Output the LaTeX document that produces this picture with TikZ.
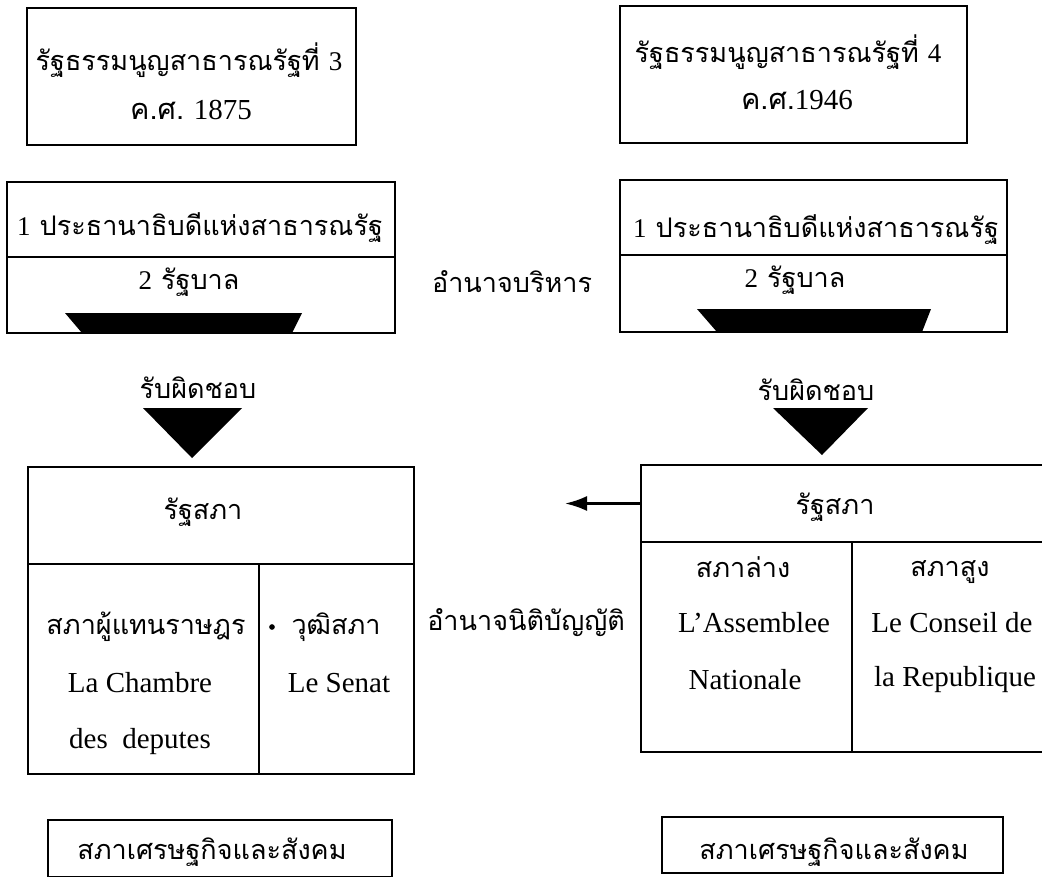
\documentclass[tikz,border=0pt]{standalone}
\usepackage{fontspec}
\setmainfont{Liberation Serif}
\newfontfamily\thaifont[Script=Thai]{Loma}
\usetikzlibrary{arrows.meta}
\tikzstyle{cellbox} = [draw=black, line width=2.8pt, rectangle, inner sep=0pt]
\tikzstyle{thaitext} = [font=\thaifont\fontsize{27}{32}\selectfont, inner sep=0pt]
\tikzstyle{romantext} = [font=\fontsize{29}{34}\selectfont, inner sep=0pt]
\tikzstyle{bigarrow} = [fill=black]

\begin{document}
\begin{tikzpicture}[x=1pt, y=-1pt]
    \useasboundingbox (0,0) rectangle (1042,876);
    % constitution boxes
    \node[cellbox, minimum width=329pt, minimum height=137pt] (ruleA) at (191.5,76.5) {};
    \node[cellbox, minimum width=347pt, minimum height=137pt] (ruleB) at (793.5,74.5) {};
    \node[thaitext] (ruleAt) at (189,60) {รัฐธรรมนูญสาธารณรัฐที่ {\rmfamily 3}};
    \node[romantext] (ruleAy) at (191,110) {{\thaifont ค.ศ.} 1875};
    \node[thaitext] (ruleBt) at (788,52) {รัฐธรรมนูญสาธารณรัฐที่ {\rmfamily 4}};
    \node[romantext] (ruleBy) at (797,100) {{\thaifont ค.ศ.}1946};
    % executive
    \node[cellbox, minimum width=388pt, minimum height=75pt] (headA) at (201,219.5) {};
    \node[cellbox, minimum width=388pt, minimum height=76pt] (govA) at (201,295) {};
    \node[cellbox, minimum width=387pt, minimum height=75pt] (headB) at (813.5,217.5) {};
    \node[cellbox, minimum width=387pt, minimum height=77pt] (govB) at (813.5,293.5) {};
    \node[thaitext] (headAt) at (200,228) {{\rmfamily 1} ประธานาธิบดีแห่งสาธารณรัฐ};
    \node[thaitext] (govAt) at (189,282) {{\rmfamily 2} รัฐบาล};
    \node[thaitext] (headBt) at (816,230) {{\rmfamily 1} ประธานาธิบดีแห่งสาธารณรัฐ};
    \node[thaitext] (govBt) at (795,280) {{\rmfamily 2} รัฐบาล};
    \fill[bigarrow] (65,313) -- (302,313) -- (292,333) -- (82,333) -- cycle;
    \fill[bigarrow] (697,309) -- (931,309) -- (922,332) -- (717,332) -- cycle;
    \node[thaitext] (execlabel) at (512,282) {อำนาจบริหาร};
    % responsibility
    \node[thaitext] (respA) at (198,388) {รับผิดชอบ};
    \node[thaitext] (respB) at (816,390) {รับผิดชอบ};
    \fill[bigarrow] (143,408) -- (242,408) -- (192,458) -- cycle;
    \fill[bigarrow] (773,408) -- (868,408) -- (822,455) -- cycle;
    % parliament 1875
    \node[cellbox, minimum width=386pt, minimum height=97pt] (parlA) at (221,515.5) {};
    \node[cellbox, minimum width=231pt, minimum height=210pt] (lowerA) at (143.5,669) {};
    \node[cellbox, minimum width=155pt, minimum height=210pt] (upperA) at (336.5,669) {};
    \node[thaitext] (parlAt) at (203,512) {รัฐสภา};
    \node[thaitext] (lowerAt) at (146,627) {สภาผู้แทนราษฎร};
    \node[romantext] (lowerAa) at (140,683) {La Chambre};
    \node[romantext] (lowerAb) at (140,742) {des\enspace deputes};
    \node[circle, fill=black, inner sep=2pt] (dotA) at (272,627) {};
    \node[thaitext] (upperAt) at (336,627) {วุฒิสภา};
    \node[romantext] (upperAa) at (339,683) {Le Senat};
    % parliament 1946
    \node[cellbox, minimum width=409pt, minimum height=77pt] (parlB) at (845.5,503.5) {};
    \node[cellbox, minimum width=211pt, minimum height=210pt] (lowerB) at (746.5,647) {};
    \node[cellbox, minimum width=198pt, minimum height=210pt] (upperB) at (951,647) {};
    \node[thaitext] (parlBt) at (835,507) {รัฐสภา};
    \node[thaitext] (lowerBt) at (743,567) {สภาล่าง};
    \node[romantext] (lowerBa) at (754,623) {L’Assemblee};
    \node[romantext] (lowerBb) at (745,680) {Nationale};
    \node[thaitext] (upperBt) at (950,572) {สภาสูง};
    \node[romantext] (upperBa) at (952,623) {Le Conseil de};
    \node[romantext] (upperBb) at (955,680) {la Republique};
    \node[thaitext] (leglabel) at (526,623) {อำนาจนิติบัญญัติ};
    \coordinate (legend) at (565,503.5);
    \draw[line width=2.4pt, -{Latex[length=22pt, width=15pt]}] (parlB.west) -- (legend);
    % economic and social council
    \node[cellbox, minimum width=344pt, minimum height=57pt] (econA) at (220,848.5) {};
    \node[cellbox, minimum width=341pt, minimum height=56pt] (econB) at (832.5,845) {};
    \node[thaitext] (econAt) at (212,852) {สภาเศรษฐกิจและสังคม};
    \node[thaitext] (econBt) at (834,852) {สภาเศรษฐกิจและสังคม};
\end{tikzpicture}
\end{document}
